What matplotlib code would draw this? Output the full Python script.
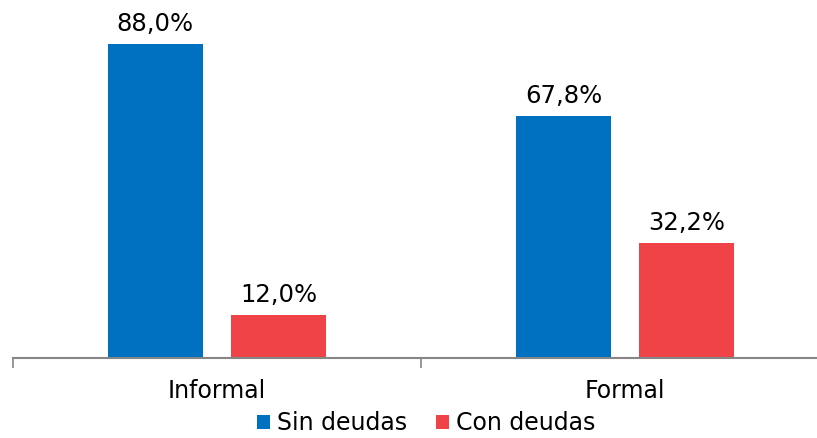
"""Sin deudas / Con deudas por tipo de empleo."""

import matplotlib.pyplot as plt
import numpy as np

categories = ["Informal", "Formal"]
sin_deudas = [88.0, 67.8]
con_deudas = [12.0, 32.2]
series_names = ["Sin deudas", "Con deudas"]

BLUE = "#0070C0"
RED = "#EF4347"
GRAY = "#868686"

plt.rcParams["font.family"] = ["DejaVu Sans"]

fig = plt.figure(figsize=(8.17, 4.38), dpi=100)
# axes spans past the right edge like the original
ax = fig.add_axes([13 / 817, (438 - 358) / 438, 816 / 817, 358 / 438])

x = np.arange(len(categories))
width = 0.233
offset = 0.151

b1 = ax.bar(x - offset, sin_deudas, width, color=BLUE, label=series_names[0])
b2 = ax.bar(x + offset, con_deudas, width, color=RED, label=series_names[1])

for bars in (b1, b2):
    for rect in bars:
        h = rect.get_height()
        ax.annotate(f"{h:.1f}%".replace(".", ","),
                    (rect.get_x() + rect.get_width() / 2, h),
                    xytext=(0, 9.5), textcoords="offset points",
                    ha="center", va="baseline", fontsize=17.5, color="#000000")

ax.set_xlim(-0.5, 1.5)
ax.set_ylim(0, 100.3)
ax.set_xticks(x)
ax.set_xticklabels(categories, fontsize=17)
ax.set_xticks([-0.5, 0.5, 1.5], minor=True)
ax.tick_params(axis="x", which="major", length=0, pad=15)
ax.tick_params(axis="x", which="minor", length=7, color=GRAY, width=1.2)
ax.set_yticks([])
for side in ("top", "right", "left"):
    ax.spines[side].set_visible(False)
ax.spines["bottom"].set_color(GRAY)
ax.spines["bottom"].set_linewidth(1.5)

fig.legend(handles=[b1, b2], labels=series_names, loc="center",
           bbox_to_anchor=(426 / 817, 1 - 423 / 438), ncol=2, frameon=False,
           fontsize=17, handlelength=0.55, handleheight=0.55,
           handletextpad=0.3, columnspacing=1.2, borderpad=0)

fig.savefig("out.png", dpi=100)
